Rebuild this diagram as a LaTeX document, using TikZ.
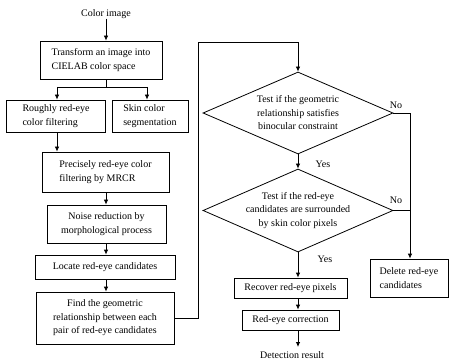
\documentclass[tikz,border=0pt]{standalone}
\usepackage{fontspec}
\setmainfont{Liberation Serif}
\usetikzlibrary{shapes.geometric,arrows.meta,calc}
\begin{document}
\begin{tikzpicture}[x=1pt,y=-1pt,
  every node/.style={font=\fontsize{10}{13.5}\selectfont, inner sep=0pt},
  box/.style={draw, line width=0.8pt, align=center},
  dia/.style={draw, line width=0.8pt, shape=diamond, align=center, minimum width=190pt, minimum height=82pt, aspect=2.3},
  conn/.style={line width=0.8pt},
  arr/.style={line width=0.8pt, -{Latex[length=5pt,width=4.5pt]}}]
\useasboundingbox (0,0) rectangle (449,363);
\node (cimg) at (106,14) {Color image};
\node[box, minimum width=122pt, minimum height=38pt, align=left] (tr) at (101,60) {Transform an image into\\CIELAB color space};
\node[box, minimum width=99pt, minimum height=32pt, align=left] (rough) at (56,116) {Roughly red-eye\\color filtering};
\node[box, minimum width=76pt, minimum height=32pt, align=left] (skin) at (150,116) {Skin color\\segmentation};
\node[box, minimum width=127pt, minimum height=40pt, align=left] (prec) at (105.5,172) {Precisely red-eye color\\filtering by MRCR};
\node[box, minimum width=119pt, minimum height=38pt] (noise) at (106.5,224) {Noise reduction by\\morphological process};
\node[box, minimum width=140pt, minimum height=24pt] (loc) at (105,267) {Locate red-eye candidates};
\node[box, minimum width=138pt, minimum height=52pt] (find) at (105,318) {Find the geometric\\relationship between each\\pair of red-eye candidates};
\node[dia] (d1) at (298,113) {Test if the geometric\\relationship satisfies\\binocular constraint};
\node[dia, minimum height=83pt] (d2) at (298,210.5) {Test if the red-eye\\candidates are surrounded\\by skin color pixels};
\node[box, minimum width=78pt, minimum height=38pt, align=left] (del) at (409,278) {Delete red-eye\\candidates};
\node[box, minimum width=113pt, minimum height=20pt] (rec) at (290.5,288) {Recover red-eye pixels};
\node[box, minimum width=97pt, minimum height=20pt] (corr) at (290.5,320) {Red-eye correction};
\node (det) at (292,355) {Detection result};
\node (no1) at (396,105) {No};
\node (no2) at (396,200) {No};
\node (yes1) at (323,164) {Yes};
\node (yes2) at (325,259) {Yes};
\coordinate (br) at (106,87);
\coordinate (rt1) at (198,42);
\coordinate (detarr) at (298,347);
\draw[arr] (cimg.south -| br) -- (tr.north -| br);
\draw[conn] (tr.south -| br) -- (br);
\draw[conn] (br -| 57,0) -- (br -| 147,0);
\draw[arr] (br -| 57,0) -- (rough.north -| 57,0);
\draw[arr] (br -| 147,0) -- (skin.north -| 147,0);
\draw[arr] (rough.south -| 57,0) -- (prec.north -| 57,0);
\draw[arr] (prec.south -| br) -- (noise.north -| br);
\draw[arr] (noise.south -| br) -- (loc.north -| br);
\draw[arr] (loc.south -| br) -- (find.north -| br);
\draw[arr] (find.east) -| (rt1) -| (d1.north);
\draw[arr] (d1.south) -- (d2.north);
\draw[arr] (d1.east) -| (del.north -| 410,0);
\draw[conn] (d2.east) -- (d2.east -| 410,0);
\draw[arr] (d2.south) -- (rec.north -| d2.south);
\draw[arr] (rec.south -| d2.south) -- (corr.north -| d2.south);
\draw[arr] (corr.south -| d2.south) -- (detarr);
\end{tikzpicture}
\end{document}
